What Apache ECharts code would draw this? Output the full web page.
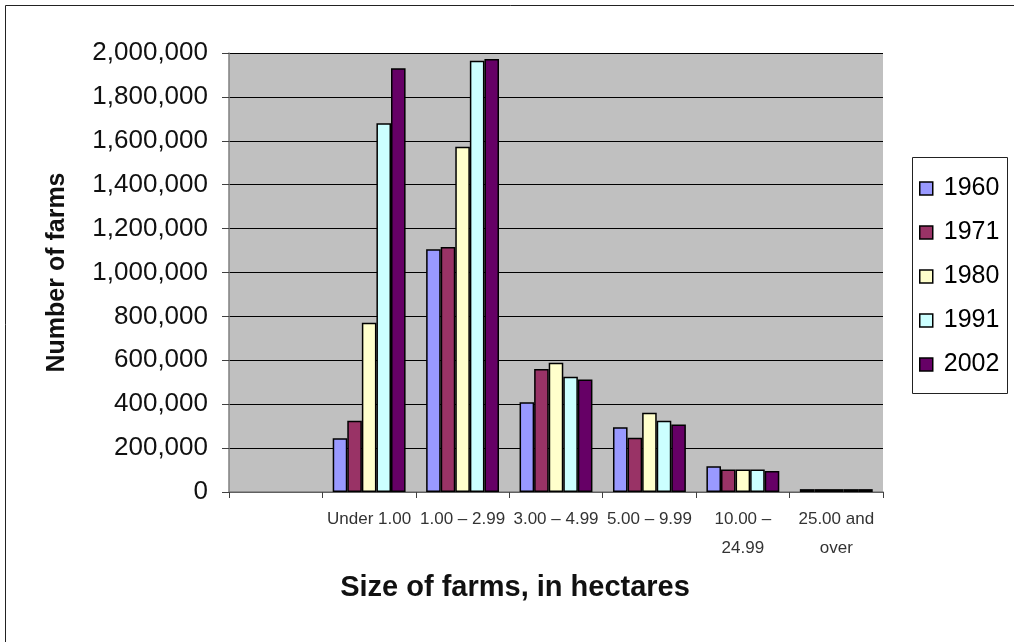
<!DOCTYPE html>
<html>
<head>
<meta charset="utf-8">
<script src="https://cdn.jsdelivr.net/npm/echarts@6/dist/echarts.min.js"></script>
<style>
  html, body { margin: 0; padding: 0; background: #ffffff; }
  #chart { width: 1014px; height: 642px; }
</style>
</head>
<body>
<div id="chart"></div>
<script>
// Farm size classes (first slot is an empty leading category)
const categories = ['', 'Under 1.00', '1.00 – 2.99', '3.00 – 4.99', '5.00 – 9.99', '10.00 –\n24.99', '25.00 and\nover'];
const years = ['1960', '1971', '1980', '1991', '2002'];

// Number of farms per size class, by census year
const farms1960 = [null, 245000, 1106000, 409000, 295000, 117000, 13000];
const farms1971 = [null, 325000, 1116000, 560000, 247000, 102000, 13000];
const farms1980 = [null, 771000, 1573000, 589000, 361000, 102000, 13000];
const farms1991 = [null, 1680000, 1965000, 525000, 325000, 102000, 13000];
const farms2002 = [null, 1930000, 1973000, 513000, 308000, 96000, 13000];

const yearColors = ['#9999ff', '#993366', '#ffffcc', '#ccffff', '#660066'];
const seriesValues = [farms1960, farms1971, farms1980, farms1991, farms2002];

const chart = echarts.init(document.getElementById('chart'), null, { renderer: 'canvas' });

const font = '"Liberation Sans", Arial, sans-serif';

chart.setOption({
  animation: false,
  backgroundColor: '#ffffff',
  textStyle: { fontFamily: font },
  grid: {
    left: 229, top: 53, right: 131, bottom: 150,
    show: true, backgroundColor: '#c0c0c0', borderWidth: 0
  },
  legend: {
    orient: 'vertical',
    left: 919, top: 176,
    icon: 'rect',
    itemWidth: 13, itemHeight: 13,
    itemGap: 19,
    padding: 0,
    itemStyle: { borderColor: '#000', borderWidth: 1.5 },
    textStyle: { fontFamily: font, fontSize: 25, lineHeight: 24, color: '#000', padding: [0, 0, 0, 6] },
    data: years
  },
  xAxis: {
    type: 'category',
    data: categories,
    axisLine: { lineStyle: { color: '#808080', width: 1.5 } },
    axisTick: { show: true, length: 6, lineStyle: { color: '#404040' } },
    axisLabel: {
      fontFamily: font, fontSize: 17, color: '#333', margin: 13,
      lineHeight: 29, interval: 0
    },
    name: 'Size of farms, in hectares',
    nameLocation: 'middle',
    nameGap: 81,
    nameTextStyle: {
      fontFamily: font, fontSize: 29, fontWeight: 'bold', color: '#111',
      padding: [0, 82, 0, 0]
    }
  },
  yAxis: {
    type: 'value',
    min: 0, max: 2000000, interval: 200000,
    axisLine: { show: true, lineStyle: { color: '#808080', width: 1.5 } },
    axisTick: { show: true, length: 7, lineStyle: { color: '#404040' } },
    splitLine: { show: true, lineStyle: { color: '#000', width: 1 } },
    axisLabel: {
      fontFamily: font, fontSize: 26, color: '#111', margin: 21,
      formatter: v => v.toLocaleString('en-US')
    },
    name: 'Number of farms',
    nameLocation: 'middle',
    nameRotate: 90,
    nameGap: 159,
    nameTextStyle: { fontFamily: font, fontSize: 25, fontWeight: 'bold', color: '#111' }
  },
  series: years.map((y, i) => ({
    name: y,
    type: 'bar',
    data: seriesValues[i],
    barGap: '0%',
    barCategoryGap: '22%',
    itemStyle: { color: yearColors[i], borderColor: '#000', borderWidth: 1.5 }
  })),
  graphic: [
    {
      type: 'rect',
      shape: { x: 5.5, y: 5.5, width: 1100, height: 1100 },
      style: { fill: 'none', stroke: '#222', lineWidth: 1 },
      silent: true, z: 100
    },
    {
      type: 'rect',
      shape: { x: 912.5, y: 157.5, width: 95, height: 236 },
      style: { fill: 'none', stroke: '#222', lineWidth: 1 },
      silent: true, z: 100
    }
  ]
});
</script>
</body>
</html>
